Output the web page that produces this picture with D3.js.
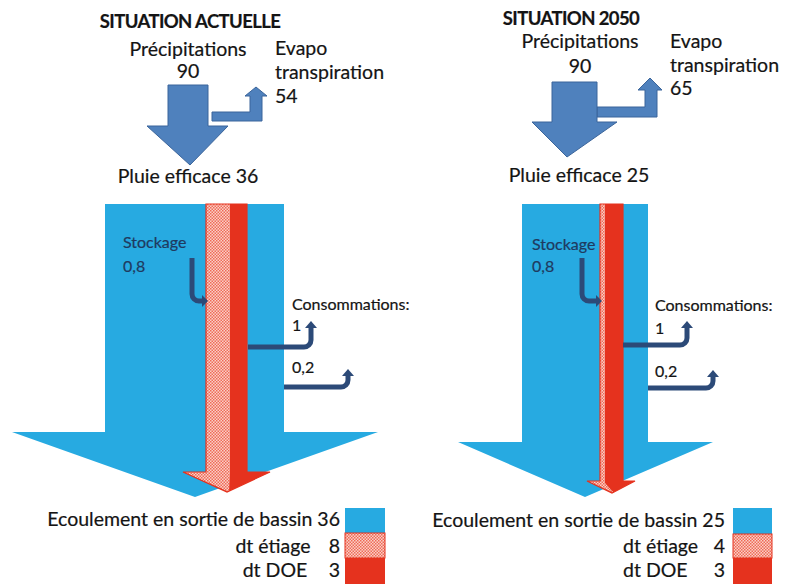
<!DOCTYPE html>
<html lang="fr">
<head>
<meta charset="UTF-8">
<title>Bilan hydrologique</title>
<script src="https://cdn.jsdelivr.net/npm/d3@7"></script>
<style>
  body { margin: 0; background: #fff; }
  text { font-family: Lato, "Open Sans", sans-serif; fill: #141414; stroke: #141414; stroke-width: 0.2; }
</style>
</head>
<body>
<svg id="svg"></svg>
<script>

var WIDTH = 787;
var HEIGHT = 584;

// Data, one entry per panel
var titles = ["SITUATION ACTUELLE", "SITUATION 2050"];
var precipitations = [90, 90];
var evapotranspiration = [54, 65];
var pluieEfficace = [36, 25];
var stockage = ["0,8", "0,8"];
var consommations = [["1", "0,2"], ["1", "0,2"]];
var ecoulement = [36, 25];
var dtEtiage = [8, 4];
var dtDOE = [3, 3];
var legendLabels = ["Ecoulement en sortie de bassin", "dt étiage", "dt DOE"];

// Layout of each panel (pixel geometry)
var layout = [
  {
    title: [190, 28], precip: [188, 56, 78], evapoText: [275, 55, 79, 103], pluie: [188, 183],
    pArrow: {l: 168, r: 208, top: 85, sb: 126, hl: 147, hr: 228, tx: 190, ty: 165},
    eArrow: {x0: 212, y0: 112, y1: 121, vl: 250, vr: 262, hb: 96, hl: 245, hr: 267, tx: 256, ty: 87},
    cyan: {l: 105, r: 284, top: 204, sb: 432, hl: 12, hr: 378, tx: 195, ty: 497},
    red: {hl0: 206, split: 230, r: 247, top: 204, sb: 472, hl: 183, hr: 270, tx: 227, ty: 492},
    stock: {x: 192, y0: 258, y1: 301, x1: 208, lx: 123, ly: [248, 272]},
    conso: {lx: 292, ly: [310, 331, 373],
            a: [[248, 347, 311, 321], [284, 387, 348, 369]]},
    legend: {bx: 345, bw: 40, rows: [508, 533, 558, 584], valX: 340,
             labX: [340, 273, 275], labAnchor: ["end", "middle", "middle"], base: [526, 553, 577]}
  },
  {
    title: [571, 25], precip: [580, 48, 73], evapoText: [670, 48, 72, 95], pluie: [579, 182],
    pArrow: {l: 552, r: 597, top: 82, sb: 122, hl: 532, hr: 617, tx: 567, ty: 157},
    eArrow: {x0: 597, y0: 107, y1: 117, vl: 645, vr: 657, hb: 90, hl: 638, hr: 662, tx: 650, ty: 78},
    cyan: {l: 522, r: 648, top: 204, sb: 442, hl: 458, hr: 713, tx: 585, ty: 497},
    red: {hl0: 600, split: 605, r: 623, top: 204, sb: 481, hl: 587, hr: 635, tx: 612, ty: 493},
    stock: {x: 582, y0: 258, y1: 301, x1: 602, lx: 532, ly: [250, 272]},
    conso: {lx: 655, ly: [311, 334, 377],
            a: [[623, 345, 687, 321], [648, 388, 713, 370]]},
    legend: {bx: 733, bw: 39, rows: [508, 534, 558, 584], valX: 725,
             labX: [725, 623, 623], labAnchor: ["end", "start", "start"], base: [527, 553, 577]}
  }
];

var CYAN = "#27aae1";
var RED = "#e5321e";
var BLUE = "#4f81bd";
var BLUE_DARK = "#3b659b";
var NAVY = "#2c4a78";
var BIG = 19.5;
var SMALL = 16;

var svg = d3.select("#svg")
  .attr("width", WIDTH)
  .attr("height", HEIGHT);

// hatch pattern for "dt étiage"
var pat = svg.append("defs").append("pattern")
  .attr("id", "hatch")
  .attr("patternUnits", "userSpaceOnUse")
  .attr("width", 3).attr("height", 3);
pat.append("rect").attr("width", 3).attr("height", 3).attr("fill", "#fad0c9");
pat.append("rect").attr("width", 1.5).attr("height", 1.5).attr("fill", "#ef6a56");
pat.append("rect").attr("x", 1.5).attr("y", 1.5).attr("width", 1.5).attr("height", 1.5).attr("fill", "#ef6a56");

var line = d3.line();

function downArrow(a, l, r) {
  return line([[l, a.top], [r, a.top], [r, a.sb], [a.hr, a.sb], [a.tx, a.ty],
               [a.hl, a.sb], [l, a.sb]]) + "Z";
}

function evapoArrow(e) {
  return line([[e.x0, e.y0], [e.vl, e.y0], [e.vl, e.hb], [e.hl, e.hb], [e.tx, e.ty],
               [e.hr, e.hb], [e.vr, e.hb], [e.vr, e.y1], [e.x0, e.y1]]) + "Z";
}

// thin elbow arrows (stockage: down then right; consommations: right then up)
function elbow(g, pts, head) {
  var p = d3.path();
  p.moveTo(pts[0][0], pts[0][1]);
  p.arcTo(pts[1][0], pts[1][1], pts[2][0], pts[2][1], 7);
  p.lineTo(pts[2][0], pts[2][1]);
  g.append("path")
    .attr("d", p.toString())
    .attr("fill", "none")
    .attr("stroke", NAVY)
    .attr("stroke-width", 5);
  g.append("path")
    .attr("d", line(head) + "Z")
    .attr("fill", NAVY);
}

layout.forEach(function (L, i) {
  var g = svg.append("g");

  // titles and labels at the top
  g.append("text").attr("x", L.title[0]).attr("y", L.title[1])
    .attr("text-anchor", "middle").attr("font-weight", "bold")
    .attr("font-size", 18.5).attr("letter-spacing", -0.6)
    .text(titles[i]);
  g.append("text").attr("x", L.precip[0]).attr("y", L.precip[1])
    .attr("text-anchor", "middle").attr("font-size", BIG)
    .text("Précipitations");
  g.append("text").attr("x", L.precip[0]).attr("y", L.precip[2])
    .attr("text-anchor", "middle").attr("font-size", BIG)
    .text(precipitations[i]);
  ["Evapo", "transpiration", evapotranspiration[i]].forEach(function (t, k) {
    g.append("text").attr("x", L.evapoText[0]).attr("y", L.evapoText[k + 1])
      .attr("font-size", BIG).text(t);
  });

  // precipitation and evapotranspiration arrows
  g.append("path").attr("d", evapoArrow(L.eArrow))
    .attr("fill", BLUE).attr("stroke", BLUE_DARK).attr("stroke-width", 1);
  g.append("path").attr("d", downArrow(L.pArrow, L.pArrow.l, L.pArrow.r))
    .attr("fill", BLUE).attr("stroke", BLUE_DARK).attr("stroke-width", 1);

  g.append("text").attr("x", L.pluie[0]).attr("y", L.pluie[1])
    .attr("text-anchor", "middle").attr("font-size", BIG)
    .text("Pluie efficace " + pluieEfficace[i]);

  // big outflow arrow
  g.append("path").attr("d", downArrow(L.cyan, L.cyan.l, L.cyan.r))
    .attr("fill", CYAN);

  // red arrow (dt DOE) with hatched part (dt étiage)
  var R = L.red;
  var redD = downArrow(R, R.hl0, R.r);
  g.append("path").attr("d", redD).attr("fill", RED);
  var clipId = "clip" + i;
  svg.select("defs").append("clipPath").attr("id", clipId)
    .append("path")
    .attr("d", line([[R.hl0, R.top], [R.split, R.top], [R.split, R.sb + 2],
                     [R.tx + 2, R.ty], [R.hl, R.sb], [R.hl0, R.sb]]) + "Z");
  g.append("path").attr("d", redD).attr("fill", "url(#hatch)")
    .attr("clip-path", "url(#" + clipId + ")");
  g.append("path").attr("d", redD).attr("fill", "none")
    .attr("stroke", RED).attr("stroke-width", 1.2);

  // stockage
  var S = L.stock;
  g.append("text").attr("x", S.lx).attr("y", S.ly[0])
    .attr("font-size", SMALL).style("fill", "#1f3a60").style("stroke", "#1f3a60").text("Stockage");
  g.append("text").attr("x", S.lx).attr("y", S.ly[1])
    .attr("font-size", SMALL).style("fill", "#1f3a60").style("stroke", "#1f3a60").text(stockage[i]);
  elbow(g, [[S.x, S.y0], [S.x, S.y1], [S.x1 - 6, S.y1]],
        [[S.x1 - 6, S.y1 - 6], [S.x1, S.y1], [S.x1 - 6, S.y1 + 6]]);

  // consommations
  var C = L.conso;
  g.append("text").attr("x", C.lx).attr("y", C.ly[0])
    .attr("font-size", SMALL).text("Consommations:");
  consommations[i].forEach(function (v, k) {
    g.append("text").attr("x", C.lx).attr("y", C.ly[k + 1])
      .attr("font-size", SMALL).text(v);
    var a = C.a[k];
    elbow(g, [[a[0], a[1]], [a[2], a[1]], [a[2], a[3] + 7]],
          [[a[2] - 6, a[3] + 7], [a[2], a[3]], [a[2] + 6, a[3] + 7]]);
  });

  // legend
  var G = L.legend;
  var fills = [CYAN, "url(#hatch)", RED];
  var values = [ecoulement[i], dtEtiage[i], dtDOE[i]];
  fills.forEach(function (f, k) {
    g.append("rect")
      .attr("x", G.bx).attr("y", G.rows[k])
      .attr("width", G.bw).attr("height", G.rows[k + 1] - G.rows[k])
      .attr("fill", f)
      .attr("stroke", k === 1 ? RED : "none");
  });
  g.append("text").attr("x", G.labX[0]).attr("y", G.base[0])
    .attr("text-anchor", G.labAnchor[0]).attr("font-size", BIG)
    .text(legendLabels[0] + " " + values[0]);
  [1, 2].forEach(function (k) {
    g.append("text").attr("x", G.labX[k]).attr("y", G.base[k])
      .attr("text-anchor", G.labAnchor[k]).attr("font-size", BIG)
      .text(legendLabels[k]);
    g.append("text").attr("x", G.valX).attr("y", G.base[k])
      .attr("text-anchor", "end").attr("font-size", BIG)
      .text(values[k]);
  });
});

</script>
</body>
</html>
